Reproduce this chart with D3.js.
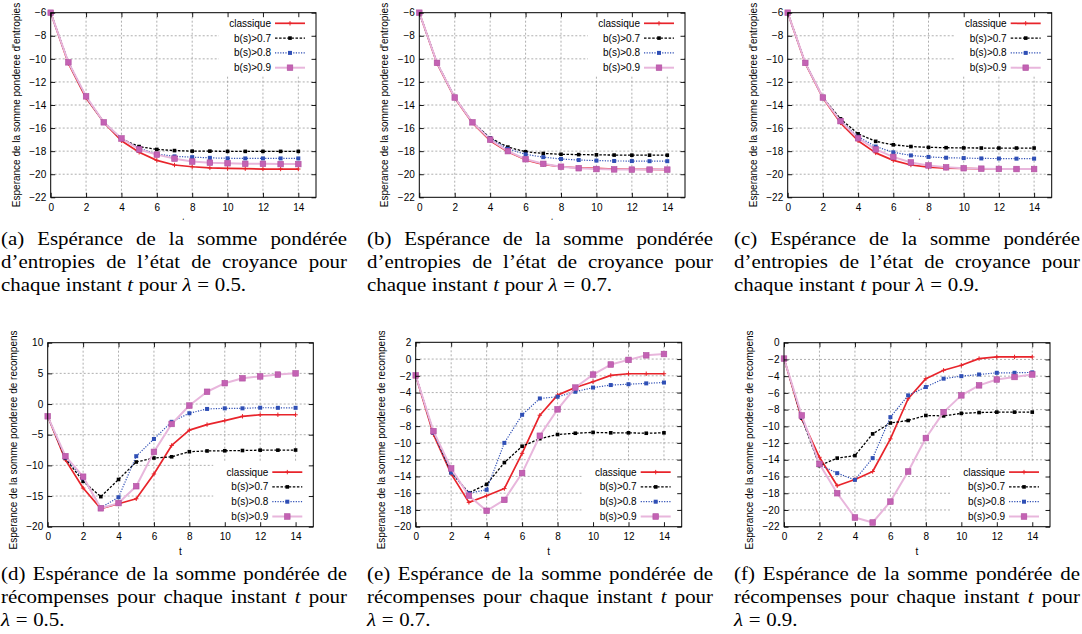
<!DOCTYPE html>
<html>
<head>
<meta charset="utf-8">
<script src="https://cdn.jsdelivr.net/npm/d3@7"></script>
<style>
  body { margin: 0; background: #fff; }
  svg { display: block; }
</style>
</head>
<body>
<svg id="fig" width="1082" height="634"></svg>
<script>
// time steps
const tValues = [0, 1, 2, 3, 4, 5, 6, 7, 8, 9, 10, 11, 12, 13, 14];
const seriesNames = ["classique", "b(s)>0.7", "b(s)>0.8", "b(s)>0.9"];

// (a) entropies, lambda = 0.5
const entA_classique = [-6, -10.4, -13.4, -15.5, -17.1, -18.1, -18.8, -19.2, -19.35, -19.45, -19.5, -19.52, -19.55, -19.55, -19.55];
const entA_b07 = [-6, -10.3, -13.3, -15.5, -16.95, -17.6, -17.85, -17.95, -18.0, -18.0, -18.02, -18.02, -18.02, -18.02, -18.02];
const entA_b08 = [-6, -10.3, -13.3, -15.5, -16.9, -17.75, -18.25, -18.45, -18.52, -18.58, -18.62, -18.63, -18.63, -18.63, -18.63];
const entA_b09 = [-6, -10.3, -13.25, -15.5, -16.9, -17.85, -18.3, -18.65, -18.9, -19.0, -19.05, -19.1, -19.1, -19.12, -19.12];

// (b) entropies, lambda = 0.7
const entB_classique = [-6, -10.4, -13.4, -15.55, -17.1, -18.05, -18.75, -19.15, -19.35, -19.45, -19.5, -19.55, -19.57, -19.58, -19.6];
const entB_b07 = [-6, -10.35, -13.35, -15.5, -16.85, -17.65, -18.05, -18.2, -18.27, -18.3, -18.32, -18.34, -18.35, -18.35, -18.35];
const entB_b08 = [-6, -10.35, -13.35, -15.5, -16.9, -17.8, -18.28, -18.52, -18.68, -18.77, -18.82, -18.85, -18.86, -18.87, -18.87];
const entB_b09 = [-6, -10.35, -13.35, -15.5, -17.0, -18.0, -18.7, -19.1, -19.35, -19.48, -19.55, -19.58, -19.6, -19.6, -19.6];

// (c) entropies, lambda = 0.9
const entC_classique = [-6, -10.4, -13.4, -15.55, -17.1, -18.15, -18.8, -19.2, -19.38, -19.47, -19.5, -19.53, -19.55, -19.55, -19.55];
const entC_b07 = [-6, -10.35, -13.35, -15.2, -16.5, -17.15, -17.45, -17.6, -17.67, -17.7, -17.72, -17.73, -17.73, -17.73, -17.73];
const entC_b08 = [-6, -10.35, -13.35, -15.35, -16.75, -17.6, -18.1, -18.37, -18.5, -18.57, -18.6, -18.63, -18.64, -18.65, -18.65];
const entC_b09 = [-6, -10.35, -13.35, -15.4, -16.88, -17.85, -18.5, -18.98, -19.24, -19.4, -19.48, -19.52, -19.54, -19.55, -19.55];

// (d) rewards, lambda = 0.5
const recD_classique = [-2, -9.1, -13.7, -17.05, -16.25, -15.45, -11.4, -6.75, -4.25, -3.35, -2.7, -2.0, -1.75, -1.75, -1.75];
const recD_b07 = [-2, -8.85, -12.6, -15.1, -12.3, -9.45, -8.8, -8.6, -7.77, -7.65, -7.62, -7.58, -7.52, -7.52, -7.5];
const recD_b08 = [-2, -8.7, -12.1, -16.9, -15.2, -8.5, -5.7, -2.9, -1.5, -0.8, -0.7, -0.7, -0.6, -0.62, -0.62];
const recD_b09 = [-2, -8.5, -11.85, -17.0, -16.15, -13.4, -7.8, -3.25, -0.25, 2.0, 3.4, 4.2, 4.5, 4.8, 5.0];

// (e) rewards, lambda = 0.7
const recE_classique = [-1.95, -9.0, -13.7, -17.1, -16.3, -15.45, -11.25, -6.7, -4.3, -3.4, -2.7, -1.95, -1.75, -1.75, -1.75];
const recE_b07 = [-1.95, -8.7, -13.5, -15.95, -14.95, -12.35, -10.4, -9.5, -9.0, -8.85, -8.75, -8.8, -8.8, -8.85, -8.8];
const recE_b08 = [-1.95, -8.8, -13.55, -16.0, -15.6, -10.0, -6.65, -4.7, -4.5, -3.9, -3.4, -3.1, -3.0, -2.9, -2.8];
const recE_b09 = [-1.95, -8.6, -13.05, -16.3, -18.1, -16.8, -13.6, -9.15, -6.0, -3.4, -1.85, -0.65, -0.1, 0.45, 0.6];

// (f) rewards, lambda = 0.9
const recF_classique = [-1.9, -9.1, -13.7, -17.1, -16.35, -15.4, -11.5, -6.7, -4.3, -3.3, -2.7, -1.9, -1.7, -1.7, -1.7];
const recF_b07 = [-1.9, -9.0, -14.7, -13.8, -13.5, -10.9, -9.6, -9.3, -8.7, -8.75, -8.45, -8.35, -8.3, -8.3, -8.3];
const recF_b08 = [-1.9, -8.9, -14.6, -15.6, -16.4, -13.8, -8.9, -6.3, -5.3, -4.3, -4.0, -3.8, -3.6, -3.6, -3.55];
const recF_b09 = [-1.9, -8.7, -14.5, -18.0, -20.9, -21.5, -19.0, -15.4, -11.4, -8.3, -6.3, -5.1, -4.4, -4.1, -3.8];

// ticks
const xTicks = [0, 2, 4, 6, 8, 10, 12, 14];
const yTicksEnt = [-22, -20, -18, -16, -14, -12, -10, -8, -6];
const yTicksRecD = [-20, -15, -10, -5, 0, 5, 10];
const yTicksRecE = [-20, -18, -16, -14, -12, -10, -8, -6, -4, -2, 0, 2];
const yTicksRecF = [-22, -20, -18, -16, -14, -12, -10, -8, -6, -4, -2, 0];

const yLabelEnt = "Esperance de la somme ponderee d'entropies";
const yLabelRec = "Esperance de la somme ponderee de recompenses";

// captions
const captionA = ["(a) Espérance de la somme pondérée", "d’entropies de l’état de croyance pour", "chaque instant t pour λ = 0.5."];
const captionB = ["(b) Espérance de la somme pondérée", "d’entropies de l’état de croyance pour", "chaque instant t pour λ = 0.7."];
const captionC = ["(c) Espérance de la somme pondérée", "d’entropies de l’état de croyance pour", "chaque instant t pour λ = 0.9."];
const captionD = ["(d) Espérance de la somme pondérée de", "récompenses pour chaque instant t pour", "λ = 0.5."];
const captionE = ["(e) Espérance de la somme pondérée de", "récompenses pour chaque instant t pour", "λ = 0.7."];
const captionF = ["(f) Espérance de la somme pondérée de", "récompenses pour chaque instant t pour", "λ = 0.9."];

// styles of the four series
const styles = [
  { color: "#e8242b", width: 1.7, dash: null, marker: "plus" },
  { color: "#000000", width: 1.3, dash: "2.5,1.6", marker: "smallsq" },
  { color: "#2f4fb5", width: 1.2, dash: "1.2,1.4", marker: "sq" },
  { color: "#e8b6dc", width: 2, dash: null, marker: "bigsq", mfill: "#c462b4", mstroke: "#b0509f" }
];

const panels = [
  { id: "a", left: 50.7, right: 316, top: 12.7, bottom: 197.3, domain: [-22, -6], yTicks: yTicksEnt, yLabel: yLabelEnt,
    series: [entA_classique, entA_b07, entA_b08, entA_b09], legend: "top", clip: [0, 220] },
  { id: "b", left: 419.3, right: 685, top: 12.7, bottom: 197.3, domain: [-22, -6], yTicks: yTicksEnt, yLabel: yLabelEnt,
    series: [entB_classique, entB_b07, entB_b08, entB_b09], legend: "top", clip: [0, 220] },
  { id: "c", left: 787.7, right: 1051.7, top: 12.7, bottom: 197.3, domain: [-22, -6], yTicks: yTicksEnt, yLabel: yLabelEnt,
    series: [entC_classique, entC_b07, entC_b08, entC_b09], legend: "top", clip: [0, 220] },
  { id: "d", left: 47.7, right: 313.3, top: 342.7, bottom: 526.7, domain: [-20, 10], yTicks: yTicksRecD, yLabel: yLabelRec,
    series: [recD_classique, recD_b07, recD_b08, recD_b09], legend: "bottom", clip: [331, 562] },
  { id: "e", left: 415.7, right: 681.7, top: 342.3, bottom: 526.7, domain: [-20, 2], yTicks: yTicksRecE, yLabel: yLabelRec,
    series: [recE_classique, recE_b07, recE_b08, recE_b09], legend: "bottom", clip: [331, 562] },
  { id: "f", left: 784, right: 1050, top: 342.7, bottom: 526.7, domain: [-22, 0], yTicks: yTicksRecF, yLabel: yLabelRec,
    series: [recF_classique, recF_b07, recF_b08, recF_b09], legend: "bottom", clip: [331, 562] }
];

const svg = d3.select("#fig");
const defs = svg.append("defs");
const sans = "'Liberation Sans', Arial, Helvetica, sans-serif";
const serif = "'Liberation Serif', 'Times New Roman', Times, serif";

function drawMarker(g, type, cx, cy, st) {
  if (type === "plus") {
    g.append("path")
      .attr("d", `M${cx - 2.2},${cy}H${cx + 2.2}M${cx},${cy - 2.2}V${cy + 2.2}`)
      .attr("stroke", st.color).attr("stroke-width", 1);
  } else if (type === "smallsq") {
    g.append("rect").attr("x", cx - 1.8).attr("y", cy - 1.8).attr("width", 3.6).attr("height", 3.6)
      .attr("fill", st.color);
  } else if (type === "sq") {
    g.append("rect").attr("x", cx - 2).attr("y", cy - 2).attr("width", 4).attr("height", 4)
      .attr("fill", st.color);
  } else {
    g.append("rect").attr("x", cx - 2.8).attr("y", cy - 2.8).attr("width", 5.6).attr("height", 5.6)
      .attr("fill", st.mfill).attr("stroke", st.mstroke).attr("stroke-width", 0.6);
  }
}

panels.forEach(p => {
  defs.append("clipPath").attr("id", "clip-" + p.id)
    .append("rect").attr("x", p.left - 60).attr("y", p.clip[0])
    .attr("width", p.right - p.left + 80).attr("height", p.clip[1] - p.clip[0]);

  const g = svg.append("g").attr("clip-path", `url(#clip-${p.id})`)
    .style("font-family", sans).style("font-size", "10px");

  const x = d3.scaleLinear().domain([0, 15]).range([p.left, p.right]);
  const y = d3.scaleLinear().domain(p.domain).range([p.bottom, p.top]);

  // grid
  const grid = g.append("g").attr("stroke", "#9a9a9a").attr("stroke-width", 0.8)
    .attr("stroke-dasharray", "2,2");
  xTicks.filter(v => v > 0).forEach(v => {
    grid.append("line").attr("x1", x(v)).attr("x2", x(v)).attr("y1", p.top).attr("y2", p.bottom);
  });
  p.yTicks.filter(v => v > p.domain[0] && v < p.domain[1]).forEach(v => {
    grid.append("line").attr("x1", p.left).attr("x2", p.right).attr("y1", y(v)).attr("y2", y(v));
  });

  // legend box (opaque)
  if (p.legend === "top") {
    g.append("rect").attr("x", p.right - 97).attr("y", p.top).attr("width", 96).attr("height", 63).attr("fill", "#fff");
  } else {
    g.append("rect").attr("x", p.right - 100).attr("y", p.bottom - 65).attr("width", 99).attr("height", 64).attr("fill", "#fff");
  }

  // series
  p.series.forEach((vals, si) => {
    const st = styles[si];
    const line = d3.line().x((d, i) => x(tValues[i])).y(d => y(d));
    g.append("path").datum(vals).attr("d", line)
      .attr("fill", "none").attr("stroke", st.color).attr("stroke-width", st.width)
      .attr("stroke-dasharray", st.dash).attr("stroke-linejoin", "round");
    const mg = g.append("g");
    vals.forEach((v, i) => drawMarker(mg, st.marker, x(tValues[i]), y(v), st));
  });

  // legend entries
  seriesNames.forEach((name, i) => {
    const st = styles[i];
    const ry = p.legend === "top" ? p.top + 10.6 + i * 14.8 : p.bottom - 10.2 - (3 - i) * 14.8;
    g.append("text").attr("x", p.right - 45).attr("y", ry).attr("dy", "0.35em")
      .attr("text-anchor", "end").attr("fill", "#000").text(name);
    g.append("line").attr("x1", p.right - 41).attr("x2", p.right - 11).attr("y1", ry).attr("y2", ry)
      .attr("stroke", st.color).attr("stroke-width", st.width).attr("stroke-dasharray", st.dash);
    drawMarker(g, st.marker, p.right - 26, ry, st);
  });

  // axes with inward ticks, mirrored
  const tk = 4.5;
  const ax = g.append("g").attr("transform", `translate(0,${p.bottom})`)
    .call(d3.axisBottom(x).tickValues(xTicks).tickSize(-tk).tickPadding(6.5));
  const ay = g.append("g").attr("transform", `translate(${p.left},0)`)
    .call(d3.axisLeft(y).tickValues(p.yTicks).tickSize(-tk).tickPadding(4.5));
  const at = g.append("g").attr("transform", `translate(0,${p.top})`)
    .call(d3.axisTop(x).tickValues(xTicks).tickSize(-tk).tickFormat(""));
  const ar = g.append("g").attr("transform", `translate(${p.right},0)`)
    .call(d3.axisRight(y).tickValues(p.yTicks).tickSize(-tk).tickFormat(""));
  [ax, ay, at, ar].forEach(a => {
    a.select(".domain").remove();
    a.attr("font-family", sans).attr("font-size", 10);
    a.selectAll("line").attr("stroke", "#000").attr("stroke-width", 0.9);
    a.selectAll("text").attr("fill", "#000");
  });

  g.append("rect").attr("x", p.left).attr("y", p.top)
    .attr("width", p.right - p.left).attr("height", p.bottom - p.top)
    .attr("fill", "none").attr("stroke", "#000").attr("stroke-width", 1);

  // axis titles
  g.append("text").attr("x", (p.left + p.right) / 2).attr("y", p.bottom + 25).attr("dy", "0.35em")
    .attr("text-anchor", "middle").text("t");
  g.append("text")
    .attr("transform", `translate(${p.left - 34.5},${(p.top + p.bottom) / 2}) rotate(-90)`)
    .attr("dy", "0.35em").attr("text-anchor", "middle").text(p.yLabel);
});

// captions, justified like the LaTeX subcaptions (glyphs a little wider than Liberation Serif)
const capFont = 19, capLead = 23, capWidth = 346, capStretch = 1.1;
const measurer = svg.append("text").style("font-family", serif).style("font-size", capFont + "px")
  .attr("x", -1000).attr("y", -1000);
function wordWidth(w, italic) {
  measurer.text(w).style("font-style", italic ? "italic" : "normal");
  return measurer.node().getComputedTextLength();
}
function drawCaption(lines, x0, y0) {
  const cg = svg.append("g").attr("transform", `translate(${x0},0) scale(${capStretch},1)`)
    .style("font-family", serif).style("font-size", capFont + "px").attr("fill", "#000");
  const w = capWidth / capStretch;
  lines.forEach((line, li) => {
    const words = line.split(" ");
    const italics = words.map(s => s === "t" || s === "λ");
    const widths = words.map((s, i) => wordWidth(s, italics[i]));
    const last = li === lines.length - 1;
    const gap = last ? capFont * 0.27 : (w - d3.sum(widths)) / (words.length - 1);
    let cx = 0;
    words.forEach((s, i) => {
      cg.append("text").attr("x", cx).attr("y", y0 + li * capLead)
        .style("font-style", italics[i] ? "italic" : "normal").text(s);
      cx += widths[i] + gap;
    });
  });
}
drawCaption(captionA, 1, 245);
drawCaption(captionB, 367, 245);
drawCaption(captionC, 734, 245);
drawCaption(captionD, 1, 580);
drawCaption(captionE, 367, 580);
drawCaption(captionF, 734, 580);
measurer.remove();
</script>
</body>
</html>
